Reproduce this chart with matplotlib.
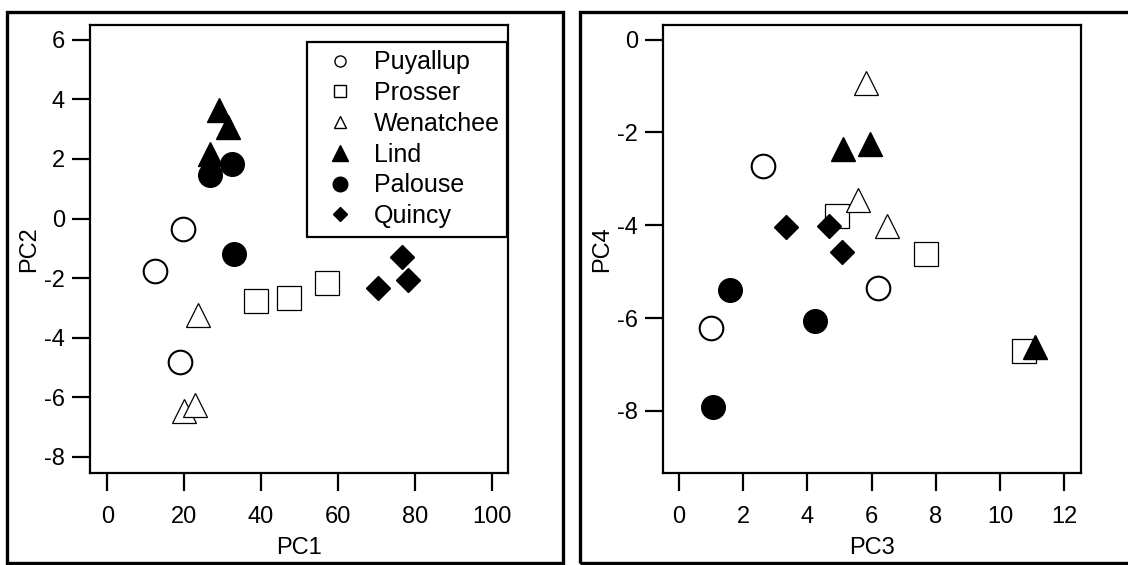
import matplotlib
matplotlib.use('Agg')
import matplotlib.pyplot as plt
from matplotlib.lines import Line2D
from matplotlib.patches import Rectangle

plt.rcParams['font.family'] = ['Liberation Sans', 'DejaVu Sans']
plt.rcParams['axes.unicode_minus'] = False

SITES = ('Puyallup', 'Prosser', 'Wenatchee', 'Lind', 'Palouse', 'Quincy')

# PC1 / PC2 scores
pc1 = {
    'Puyallup': [19.8, 12.5, 18.9],
    'Prosser': [38.7, 47.4, 57.1],
    'Wenatchee': [23.5, 20.0, 22.9],
    'Lind': [29.2, 31.3, 26.7],
    'Palouse': [26.8, 32.5, 32.9],
    'Quincy': [76.6, 70.5, 78.1],
}
pc2 = {
    'Puyallup': [-0.34, -1.75, -4.83],
    'Prosser': [-2.77, -2.68, -2.15],
    'Wenatchee': [-3.25, -6.45, -6.25],
    'Lind': [3.65, 3.08, 2.16],
    'Palouse': [1.47, 1.84, -1.18],
    'Quincy': [-1.30, -2.33, -2.06],
}
# PC3 / PC4 scores
pc3 = {
    'Puyallup': [0.99, 2.60, 6.21],
    'Prosser': [4.93, 7.69, 10.74],
    'Wenatchee': [5.83, 5.57, 6.47],
    'Lind': [5.11, 5.94, 11.08],
    'Palouse': [1.59, 4.23, 1.05],
    'Quincy': [3.32, 4.68, 5.07],
}
pc4 = {
    'Puyallup': [-6.22, -2.73, -5.36],
    'Prosser': [-3.80, -4.63, -6.72],
    'Wenatchee': [-0.93, -3.45, -4.02],
    'Lind': [-2.36, -2.25, -6.63],
    'Palouse': [-5.39, -6.07, -7.91],
    'Quincy': [-4.03, -4.02, -4.57],
}

# marker, facecolor, size, edge width (plot), size (legend)
STYLE = {
    'Puyallup': ('o', 'white', 17, 1.5, 8),
    'Prosser': ('s', 'white', 17, 0.9, 8),
    'Wenatchee': ('^', 'white', 17, 0.9, 8),
    'Lind': ('^', 'black', 17, 1.0, 11),
    'Palouse': ('o', 'black', 17, 1.0, 10.5),
    'Quincy': ('D', 'black', 12.5, 1.0, 7.5),
}

FS = 17


def scatter_panel(ax, xs, ys, xlim, ylim, xticks, yticks, xlabel, ylabel):
    for s in SITES:
        m, fc, ms, ew, _ = STYLE[s]
        ax.plot(xs[s], ys[s], linestyle='none', marker=m, markersize=ms,
                markerfacecolor=fc, markeredgecolor='black', markeredgewidth=ew)
    ax.set_xlim(*xlim)
    ax.set_ylim(*ylim)
    ax.set_xticks(xticks)
    ax.set_yticks(yticks)
    for sp in ax.spines.values():
        sp.set_linewidth(1.6)
    ax.tick_params(axis='both', direction='out', length=13, width=1.6,
                   labelsize=FS, top=False, right=False)
    ax.tick_params(axis='x', pad=11)
    ax.tick_params(axis='y', pad=5)
    ax.set_xlabel(xlabel, fontsize=FS, labelpad=6)
    ax.set_ylabel(ylabel, fontsize=FS, labelpad=3)


fig = plt.figure(figsize=(11.28, 5.65), dpi=100)

ax1 = fig.add_axes([0.0797, 0.1628, 0.3709, 0.7938])
scatter_panel(ax1, pc1, pc2, (-4.5, 104.3), (-8.54, 6.51),
              range(0, 101, 20), range(-8, 7, 2), 'PC1', 'PC2')

ax2 = fig.add_axes([0.5877, 0.1628, 0.3707, 0.7938])
scatter_panel(ax2, pc3, pc4, (-0.505, 12.53), (-9.34, 0.325),
              range(0, 13, 2), range(-8, 1, 2), 'PC3', 'PC4')

handles = []
for s in SITES:
    m, fc, ms, ew, lms = STYLE[s]
    handles.append(Line2D([], [], linestyle='none', marker=m, markersize=lms,
                          markerfacecolor=fc, markeredgecolor='black',
                          markeredgewidth=1.0, label=s))
leg = ax1.legend(handles=handles, loc='upper left',
                 bbox_to_anchor=(0.52, 0.962, 0.477, 0.0), mode='expand',
                 fontsize=18, frameon=True, fancybox=False, framealpha=1,
                 edgecolor='black', borderpad=0.35, labelspacing=0.27,
                 handlelength=1.88, handletextpad=0.44, borderaxespad=0)
leg.get_frame().set_linewidth(1.6)
leg.set_zorder(5)

# outer panel frames
for x0, x1 in ((7, 563), (580, 1140)):
    fig.patches.append(Rectangle((x0 / 1128, 2 / 565), (x1 - x0) / 1128,
                                 (563 - 12) / 565, transform=fig.transFigure,
                                 fill=False, edgecolor='black', linewidth=2.4))

fig.savefig('out.png', dpi=100)
